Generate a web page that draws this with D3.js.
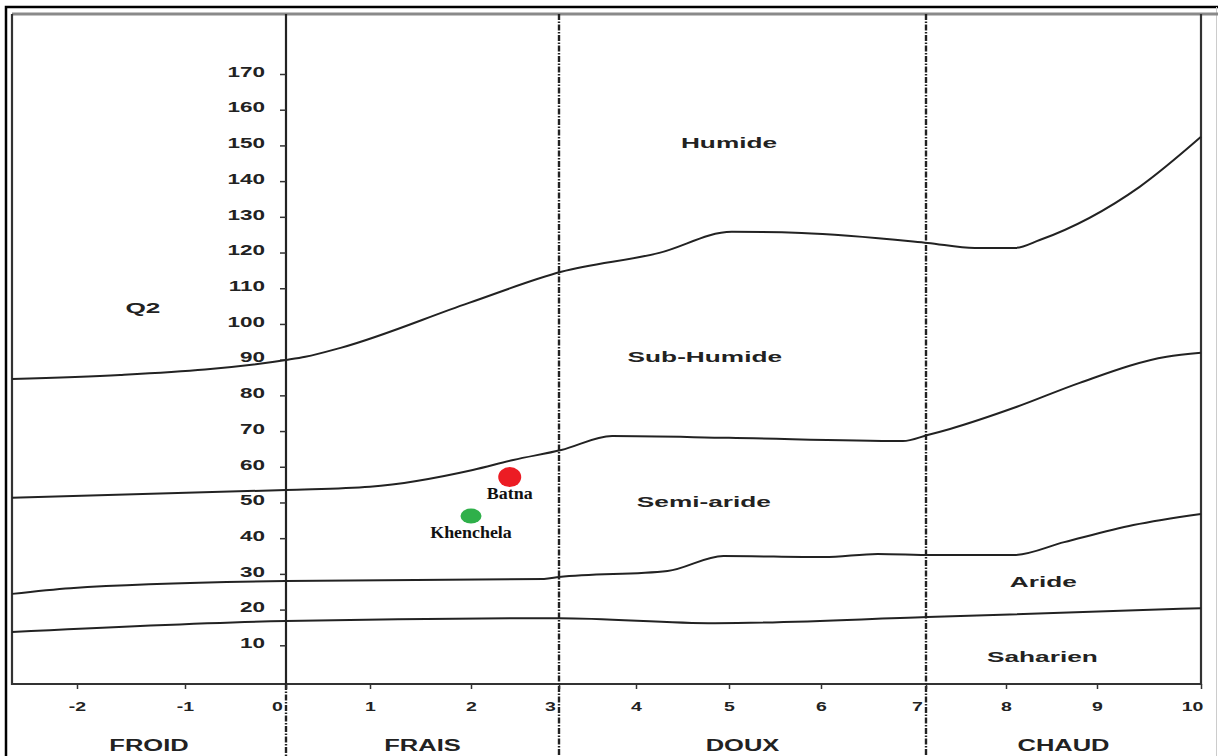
<!DOCTYPE html>
<html>
<head>
<meta charset="utf-8">
<script src="https://cdn.jsdelivr.net/npm/d3@7"></script>
<style>
  body { margin: 0; background: #fff; }
  svg { display: block; }
</style>
</head>
<body>
<svg id="chart"></svg>
<script>
// Emberger climagram : m (°C) on x, Q2 on y

const xTicks = [-2, -1, 0, 1, 2, 3, 4, 5, 6, 7, 8, 9, 10];
const yTicks = [10, 20, 30, 40, 50, 60, 70, 80, 90, 100, 110, 120, 130, 140, 150, 160, 170];

const zoneNames = ["FROID", "FRAIS", "DOUX", "CHAUD"];
const zoneBounds = [-2.6, 0, 3, 7, 10];

// boundary curves between bioclimatic stages
const limHumideM = [-2.6, -1.6, 0, 0.23, 0.65, 1.98, 3.03, 4.25, 5.03, 5.79, 7.02, 7.61, 8.1, 8.37, 9.41, 10];
const limHumideQ = [84.6, 85.7, 89.9, 90.8, 93.3, 105.9, 114.6, 119.9, 125.8, 125.5, 122.7, 121.3, 121.3, 123.5, 138.4, 152.4];

const limSubHumideM = [-2.6, 0, 1, 2.02, 2.48, 3.03, 3.69, 5, 6.78, 7.02, 7.3, 8.12, 8.81, 9.67, 10];
const limSubHumideQ = [51.3, 53.5, 54.4, 59.1, 61.9, 64.7, 68.6, 68.1, 67.2, 68.9, 70.6, 76.8, 83.5, 90.8, 91.9];

const limSemiArideM = [-2.6, -2.06, 0, 2.83, 3.0, 4.34, 4.94, 6.03, 6.54, 7.08, 8.09, 8.64, 9.35, 10];
const limSemiArideQ = [24.4, 26.0, 28.0, 28.6, 29.1, 30.8, 35.0, 34.7, 35.6, 35.3, 35.3, 38.9, 43.7, 46.8];

const limArideM = [-2.6, 0, 3.0, 4.85, 7.02, 10];
const limArideQ = [13.7, 16.8, 17.6, 16.2, 17.9, 20.4];

const regionNames = ["Humide", "Sub-Humide", "Semi-aride", "Aride", "Saharien"];
const regionM = [5.0, 4.74, 4.73, 8.41, 8.4];
const regionQ = [150.7, 90.8, 50.1, 27.7, 6.8];

const stationNames = ["Batna", "Khenchela"];
const stationM = [2.44, 2.0];
const stationQ = [57.1, 46.2];

// styles
const stationStyle = {
    Batna: { fill: "#ec1c24", rx: 11.5, ry: 10 },
    Khenchela: { fill: "#2fb04a", rx: 10.5, ry: 7.5 }
};
const ink = "#222";
const sansBold = "'Liberation Sans', Arial, sans-serif";

const width = 1218, height = 756;
const frame = { left: 12, top: 14, right: 1201, bottom: 684 };

// the scanned axis is unevenly spaced, so the scale is piecewise on the tick values
const xKnots = [-2.6, -2, -1, 0, 1, 2, 3, 4, 5, 6, 7, 8, 9, 10];
const xKnotPx = [12, 77, 185, 286, 370, 471, 559, 636, 729, 821, 926, 1006, 1097, 1201];

const x = d3.scaleLinear().domain(xKnots).range(xKnotPx);
const y = d3.scaleLinear().domain([0, 170]).range([681, 74]);

const svg = d3.select("#chart").attr("width", width).attr("height", height);

// outer border
svg.append("path")
    .attr("d", `M6,${height} L6,7 L${width},7`)
    .attr("fill", "none").attr("stroke", "#000").attr("stroke-width", 2.5);
svg.append("line")
    .attr("x1", width - 1.5).attr("x2", width - 1.5).attr("y1", 7).attr("y2", height)
    .attr("stroke", "#ccc").attr("stroke-width", 1);

// inner frame
svg.append("line")
    .attr("x1", frame.left).attr("x2", width).attr("y1", frame.top).attr("y2", frame.top)
    .attr("stroke", "#8a8a8a").attr("stroke-width", 3);
svg.append("path")
    .attr("d", `M${frame.left},${frame.top} L${frame.left},${frame.bottom} L${frame.right},${frame.bottom} L${frame.right},${frame.top}`)
    .attr("fill", "none").attr("stroke", "#333").attr("stroke-width", 2.2);

// zone separators
const seps = zoneBounds.slice(1, -1);
svg.selectAll(".sepDash")
    .data(seps)
    .join("line")
    .attr("class", "sepDash")
    .attr("x1", d => x(d)).attr("x2", d => x(d))
    .attr("y1", d => d === 0 ? frame.bottom : frame.top)
    .attr("y2", height)
    .attr("stroke", ink).attr("stroke-width", 2.4)
    .attr("stroke-dasharray", "6,1.5,1.5,1.5");
// Q2 axis line (solid part)
svg.append("line")
    .attr("x1", x(0)).attr("x2", x(0)).attr("y1", frame.top).attr("y2", frame.bottom)
    .attr("stroke", ink).attr("stroke-width", 2.2);

// helper for the horizontally stretched lettering of the scan
function stretch(sel, sx) {
    sel.attr("transform", function () {
        const t = d3.select(this);
        return `translate(${t.attr("data-x")},${t.attr("data-y")}) scale(${sx},1)`;
    });
}

// y axis
const yAxis = svg.append("g")
    .attr("transform", `translate(${x(0)},0)`)
    .call(d3.axisLeft(y).tickValues(yTicks).tickSize(6).tickFormat(d => String(d)));
yAxis.select(".domain").remove();
yAxis.selectAll(".tick line").attr("stroke", "#333").attr("stroke-width", 1.5);
yAxis.selectAll(".tick text")
    .attr("x", 0).attr("dy", "0.35em")
    .attr("text-anchor", "end")
    .attr("font-family", sansBold).attr("font-weight", "bold").attr("font-size", 15)
    .attr("fill", ink)
    .attr("data-x", -21).attr("data-y", -3)
    .call(stretch, 1.5);

// x axis
const xAxis = svg.append("g")
    .attr("transform", `translate(0,${frame.bottom})`)
    .call(d3.axisBottom(x).tickValues(xTicks).tickSize(5).tickFormat(d => String(d)));
xAxis.select(".domain").remove();
xAxis.selectAll(".tick line").attr("stroke", "#333").attr("stroke-width", 1.5);
xAxis.selectAll(".tick text")
    .attr("y", 0).attr("dy", "0.35em")
    .attr("text-anchor", "middle")
    .attr("font-family", sansBold).attr("font-weight", "bold").attr("font-size", 13)
    .attr("fill", ink)
    .attr("data-x", d => (zoneBounds.includes(d) && d !== -2.6) ? -9 : 0)
    .attr("data-y", 22)
    .call(stretch, 1.5);

// zone names under the axis
svg.selectAll(".zone")
    .data(zoneNames)
    .join("text")
    .attr("class", "zone")
    .attr("text-anchor", "middle").attr("dy", "0.35em")
    .attr("font-family", sansBold).attr("font-weight", "bold").attr("font-size", 17)
    .attr("fill", ink)
    .attr("data-x", (d, i) => (x(zoneBounds[i]) + x(zoneBounds[i + 1])) / 2)
    .attr("data-y", frame.bottom + 61)
    .text(d => d)
    .call(stretch, 1.5);

// boundary curves
const limits = [
    limHumideM.map((m, i) => [m, limHumideQ[i]]),
    limSubHumideM.map((m, i) => [m, limSubHumideQ[i]]),
    limSemiArideM.map((m, i) => [m, limSemiArideQ[i]]),
    limArideM.map((m, i) => [m, limArideQ[i]])
];
const line = d3.line()
    .x(d => x(d[0]))
    .y(d => y(d[1]))
    .curve(d3.curveMonotoneX);
svg.selectAll(".limit")
    .data(limits)
    .join("path")
    .attr("class", "limit")
    .attr("d", line)
    .attr("fill", "none")
    .attr("stroke", ink)
    .attr("stroke-width", 2);

// stage names
svg.selectAll(".region")
    .data(regionNames)
    .join("text")
    .attr("class", "region")
    .attr("text-anchor", "middle").attr("dy", "0.35em")
    .attr("font-family", sansBold).attr("font-weight", "bold").attr("font-size", 15)
    .attr("fill", ink)
    .attr("data-x", (d, i) => x(regionM[i]))
    .attr("data-y", (d, i) => y(regionQ[i]))
    .text(d => d)
    .call(stretch, 1.75);

// axis title
svg.append("text")
    .attr("text-anchor", "middle").attr("dy", "0.35em")
    .attr("font-family", sansBold).attr("font-weight", "bold").attr("font-size", 15)
    .attr("fill", ink)
    .attr("data-x", x(-1.39)).attr("data-y", y(104.5))
    .text("Q2")
    .call(stretch, 1.75);

// stations
const stations = stationNames.map((n, i) => ({ name: n, m: stationM[i], q: stationQ[i] }));
svg.selectAll(".station")
    .data(stations)
    .join("ellipse")
    .attr("class", "station")
    .attr("cx", d => x(d.m))
    .attr("cy", d => y(d.q))
    .attr("rx", d => stationStyle[d.name].rx)
    .attr("ry", d => stationStyle[d.name].ry)
    .attr("fill", d => stationStyle[d.name].fill);

svg.selectAll(".stationLabel")
    .data(stations)
    .join("text")
    .attr("class", "stationLabel")
    .attr("text-anchor", "middle")
    .attr("font-family", "'Liberation Serif', 'Times New Roman', serif")
    .attr("font-weight", "bold").attr("font-size", 16)
    .attr("fill", "#111")
    .attr("data-x", d => x(d.m))
    .attr("data-y", d => y(d.q) + 22)
    .text(d => d.name)
    .call(stretch, 1.12);
</script>
</body>
</html>
